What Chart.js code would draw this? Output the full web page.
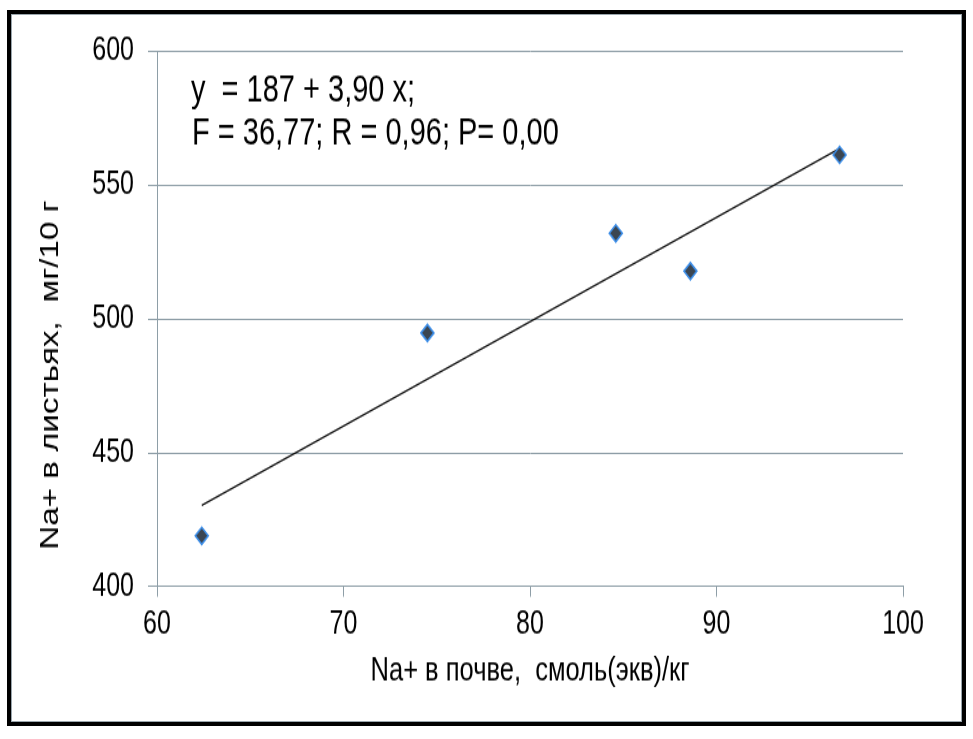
<!DOCTYPE html>
<html>
<head>
<meta charset="utf-8">
<script src="https://cdn.jsdelivr.net/npm/chart.js@4.4.1/dist/chart.umd.min.js"></script>
<style>
  html, body { margin: 0; padding: 0; background: #fff; overflow: hidden; }
  #wrap {
    position: absolute; left: 0; top: 0;
    width: 973px; height: 568px;
    transform: scaleY(1.3011); transform-origin: 0 0;
  }
  #frame {
    position: absolute; left: 7px; top: 10px;
    width: 951px; height: 708px;
    border: 4px solid #000;
    box-shadow: inset 0 0 0 1px #9aa6ad;
    pointer-events: none;
  }
</style>
</head>
<body>
<div id="wrap"><canvas id="chart"></canvas></div>
<div id="frame"></div>
<script>
// данные
var sodiumSoil = [62.4, 74.5, 84.6, 88.6, 96.6];
var sodiumLeaves = [419, 494.8, 532, 517.9, 561.3];
var trendX = [62.4, 96.6];
var trendY = [430.4, 563.7];
var yTicks = [400, 450, 500, 550, 600];
var xTicks = [60, 70, 80, 90, 100];
var equationLines = ['y  = 187 + 3,90 x;', 'F = 36,77; R = 0,96; P= 0,00'];
var yTitle = 'Na+ в листьях,  мг/10 г';
var xTitle = 'Na+ в почве,  смоль(экв)/кг';

var FONT = "'Liberation Sans', Arial, sans-serif";
var GRID = '#8e9ea7';
var S = 1.3011;

var points = sodiumSoil.map(function (x, i) { return { x: x, y: sodiumLeaves[i] }; });
var trend = trendX.map(function (x, i) { return { x: x, y: trendY[i] }; });

// уравнение регрессии и подпись оси Y (она сдвинута вниз от центра)
var labelsPlugin = {
    id: 'labels',
    afterDraw: function (chart) {
        var ctx = chart.ctx;
        ctx.save();
        ctx.fillStyle = '#000';
        ctx.font = '29px ' + FONT;
        ctx.textBaseline = 'alphabetic';
        ctx.fillText(equationLines[0], 191, 102 / S);
        ctx.fillText(equationLines[1], 192, 144 / S);

        ctx.translate(51, 375 / S);
        ctx.rotate(-Math.PI / 2);
        ctx.font = '25.5px ' + FONT;
        ctx.textAlign = 'center';
        ctx.textBaseline = 'middle';
        ctx.fillText(yTitle, 0, 0);
        ctx.restore();
    }
};

var ctx = document.getElementById('chart').getContext('2d');
var myChart = new Chart(ctx, {
    type: 'scatter',
    data: {
        datasets: [{
            label: 'Na+',
            data: points,
            pointStyle: 'rectRot',
            pointRadius: 6.5,
            backgroundColor: '#3b4652',
            borderColor: '#3d8ee8',
            borderWidth: 1.5,
            order: 1
        }, {
            label: 'trend',
            type: 'line',
            data: trend,
            borderColor: '#111',
            borderWidth: 1.3,
            pointRadius: 0,
            fill: false,
            order: 2
        }]
    },
    options: {
        responsive: true,
        maintainAspectRatio: false,
        animation: false,
        events: [],
        layout: { padding: { left: 8, right: 70, top: 51.3 / S, bottom: 0 } },
        plugins: {
            legend: { display: false },
            tooltip: { enabled: false }
        },
        scales: {
            x: {
                type: 'linear',
                min: 60,
                max: 100,
                afterBuildTicks: function (scale) {
                    scale.ticks = xTicks.map(function (v) { return { value: v }; });
                },
                afterFit: function (scale) { scale.height = 568 - 586.7 / S; },
                grid: { drawOnChartArea: false, color: GRID, tickLength: 10 / S },
                border: { display: true, color: GRID },
                ticks: { color: '#000', padding: 6, font: { family: FONT, size: 25 } },
                title: {
                    display: true,
                    text: xTitle,
                    color: '#000',
                    font: { family: FONT, size: 25.5 },
                    padding: { top: 0, bottom: 37 }
                }
            },
            y: {
                min: 400,
                max: 600,
                afterBuildTicks: function (scale) {
                    scale.ticks = yTicks.map(function (v) { return { value: v }; });
                },
                afterFit: function (scale) { scale.width = 149; },
                grid: { color: GRID, tickLength: 9 },
                border: { display: true, color: GRID },
                ticks: { color: '#000', padding: 14, font: { family: FONT, size: 25 } }
            }
        }
    },
    plugins: [labelsPlugin]
});
</script>
</body>
</html>
